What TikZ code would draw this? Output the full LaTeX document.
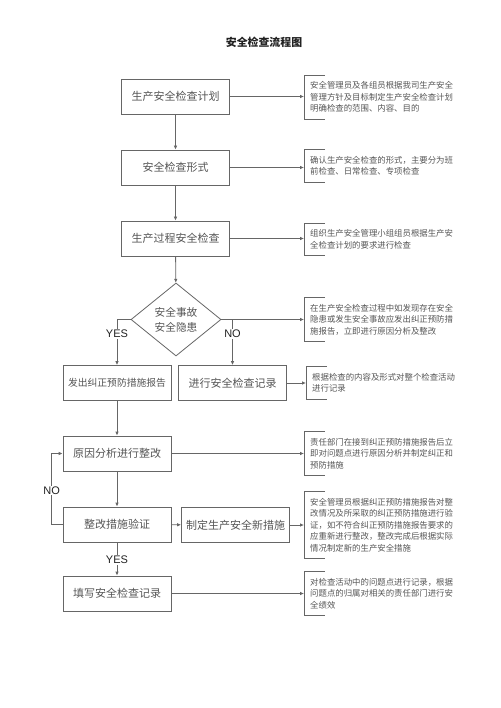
\documentclass[tikz,border=0pt]{standalone}
\usepackage{fontspec}
\setmainfont{Noto Sans CJK SC}
\newfontfamily\latinsans{Liberation Sans}
\usepackage{xcolor}
\usepackage{tikz}
\usetikzlibrary{arrows.meta,shapes.geometric}
\definecolor{ink}{HTML}{555555}
\definecolor{edge}{HTML}{666666}
\definecolor{head}{HTML}{222222}
\tikzset{
  box/.style={draw=edge, line width=0.8pt, minimum width=108pt, minimum height=35pt,
    inner sep=1pt, text=ink, font=\fontsize{11}{13}\selectfont},
  dec/.style={draw=edge, line width=0.8pt, diamond, aspect=1.23, minimum width=90pt,
    minimum height=73pt, inner sep=0pt, text=ink, align=center,
    font=\fontsize{10.7}{15}\selectfont},
  note/.style={anchor=west, align=left, inner xsep=6pt, inner ysep=6.3pt, text=ink,
    font=\fontsize{8.4}{11.5}\selectfont},
  brk/.style={draw=edge, line width=0.8pt},
  arr/.style={draw=edge, line width=0.8pt, -{Latex[length=4pt,width=3.6pt]}},
  yn/.style={fill=white, inner sep=1pt, text=head, font=\latinsans\fontsize{11}{12}\selectfont},
}
\begin{document}
\begin{tikzpicture}[x=1pt,y=-1pt]
  \useasboundingbox (0,0) rectangle (500,708);
  \node[text=head, font=\bfseries\fontsize{10.9}{12}\selectfont] (title) at (264,42) {安全检查流程图};
  % main column
  \node[box] (b1) at (175.5,96.5) {生产安全检查计划};
  \node[box] (b2) at (175.5,167.5) {安全检查形式};
  \node[box] (b3) at (175.5,238.5) {生产过程安全检查};
  \node[dec] (d) at (176,319.5) {安全事故\\安全隐患};
  \node[box, font=\fontsize{9.8}{12}\selectfont] (b4) at (117,383) {发出纠正预防措施报告};
  \node[box] (r4) at (232.5,383) {进行安全检查记录};
  \node[box] (b5) at (117,453.5) {原因分析进行整改};
  \node[box] (b6) at (117,524.5) {整改措施验证};
  \node[box] (r6) at (235.5,525) {制定生产安全新措施};
  \node[box] (b8) at (117,593.5) {填写安全检查记录};
  % notes on the right
  \node[note] (n1) at (304,97) {安全管理员及各组员根据我司生产安全\\管理方针及目标制定生产安全检查计划\\明确检查的范围、内容、目的};
  \node[note] (n2) at (304,166) {确认生产安全检查的形式，主要分为班\\前检查、日常检查、专项检查};
  \node[note] (n3) at (304,239.5) {组织生产安全管理小组组员根据生产安\\全检查计划的要求进行检查};
  \node[note] (n4) at (304,319.5) {在生产安全检查过程中如发现存在安全\\隐患或发生安全事故应发出纠正预防措\\施报告，立即进行原因分析及整改};
  \node[note] (n5) at (306,383) {根据检查的内容及形式对整个检查活动\\进行记录};
  \node[note] (n6) at (304,453.5) {责任部门在接到纠正预防措施报告后立\\即对问题点进行原因分析并制定纠正和\\预防措施};
  \node[note] (n7) at (304,525) {安全管理员根据纠正预防措施报告对整\\改情况及所采取的纠正预防措施进行验\\证，如不符合纠正预防措施报告要求的\\应重新进行整改，整改完成后根据实际\\情况制定新的生产安全措施};
  \node[note] (n8) at (304,593.5) {对检查活动中的问题点进行记录，根据\\问题点的归属对相关的责任部门进行安\\全绩效};
  \foreach \N in {n1,n2,n3,n4,n5,n6,n7,n8}
    \draw[brk] ([xshift=21pt]\N.north west) -- (\N.north west) -- (\N.south west) -- ([xshift=21pt]\N.south west);
  % connectors
  \draw[arr] (b1) -- (b2);
  \draw[arr] (b2) -- (b3);
  \draw[arr] (b3) -- (d);
  \draw[arr] (d.west) -| node[yn, pos=0.66] {YES} (b4.north);
  \draw[arr] (d.east) -| node[yn, pos=0.66] {NO} (r4.north);
  \draw[arr] (b4) -- (b5);
  \draw[arr] (b5) -- (b6);
  \draw[arr] (b6) -- node[yn, pos=0.53] {YES} (b8);
  \draw[arr] (b6.west) -- ++(-11,0) |- node[yn, pos=0.24] {NO} (b5.west);
  \draw[arr] (b6) -- (r6);
  \foreach \A/\B in {b1/n1,b2/n2,b3/n3,d/n4,r4/n5,b5/n6,r6/n7,b8/n8}
    \draw[arr] (\A.east) -- (\A.east -| \B.west);
\end{tikzpicture}
\end{document}
